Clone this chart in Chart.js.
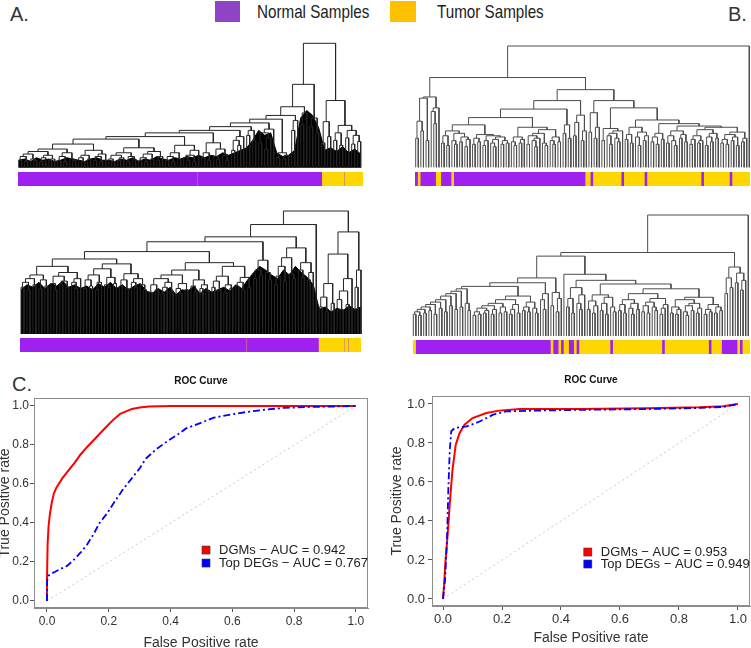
<!DOCTYPE html>
<html>
<head>
<meta charset="utf-8">
<script src="https://cdn.jsdelivr.net/npm/chart.js@4.4.1/dist/chart.umd.min.js"></script>
<style>
  html, body { margin: 0; padding: 0; background: #fff; overflow: hidden; }
  body { width: 751px; height: 648px; position: relative; font-family: "Liberation Sans", Arial, sans-serif; }
  .panel { position: absolute; font-size: 20px; color: #333; line-height: 22px; }
  .key { position: absolute; font-family: "Liberation Sans", Arial, sans-serif; font-size: 19px; line-height: 24px;
         color: #222; white-space: nowrap; transform: scaleX(0.8); transform-origin: 0 50%; }
  .sw { position: absolute; }
</style>
</head>
<body>
<div class="panel" style="left:10px;top:3px">A.</div>
<div class="panel" style="left:728px;top:3px">B.</div>
<div class="panel" style="left:12px;top:373px">C.</div>
<div class="sw" style="left:215px;top:1px;width:25px;height:21px;background:#8e44c4"></div>
<div class="key" style="left:257px;top:0px" id="k0"></div>
<div class="sw" style="left:390px;top:1px;width:26px;height:21px;background:#ffc000"></div>
<div class="key" style="left:437px;top:0px" id="k1"></div>

<script>
/* ================================
   DATA
================================ */

const legendLabels = ["Normal Samples", "Tumor Samples"];

// dendrograms: merge height between neighbouring leaves (0 = leaf level, 100 = root)
const gapsA1 = [
  6,9,5,11,7,6,13,5,8,10,6,7,15,6,9,5,12,7,6,19,8,5,10,7,14,6,9,5,11,
  23,
  7,5,10,6,8,12,5,9,7,16,6,8,5,11,7,13,6,9,
  25,
  6,9,5,12,7,18,8,6,10,5,14,
  28,
  8,12,6,20,9,7,15,10,6,
  30,
  14,22,18,25,
  33,
  26,30,22,
  36,
  20,28,15,24,31,
  39,
  8,12,7,10,
  42,
  30,38,49,35,44,
  67,
  33,40,28,
  100,
  20,37,25,54,22,28,18,34,24,30,19,26,21
];
// height of the dense black leaf mass, every second leaf
const massA1 = [
  6,7,5,8,6,7,5,6,8,7,6,5,7,8,6,
  6,5,7,6,8,5,7,6,9,7,
  6,8,7,9,8,10,
  8,10,9,12,10,
  12,14,16,22,
  30,26,28,12,
  9,10,14,
  40,46,42,32,
  14,16,13,17,12,15,11
];

const gapsA2 = [
  38,42,36,45,40,48,37,44,39,55,41,36,47,40,43,38,50,42,37,45,
  61,
  37,44,39,48,36,42,53,40,38,46,41,57,39,44,37,49,42,38,45,40,36,
  67,
  34,40,36,45,33,38,42,35,48,37,33,41,36,52,39,34,44,37,40,35,58,38,43,36,47,34,40,37,55,39,42,36,46,38,
  75,
  45,52,48,60,50,44,
  79,
  40,47,55,43,62,49,45,70,52,46,58,44,50,
  89,
  100,
  22,30,18,41,25,65,28,20,35,24,45,83,38,52
];
const massA2 = [
  36,40,38,42,37,41,39,43,38,40,37,
  39,36,41,38,42,37,40,36,39,41,35,
  33,37,34,38,32,36,35,39,33,37,34,36,38,35,40,37,44,
  50,55,52,48,
  45,52,48,55,50,46,40,
  20,22,18,21,19,23,20,22
];

const gapsB1 = [
  24,38,30,57,22,58,46,36,49,
  74,
  20,26,18,30,22,19,28,21,25,17,23,
  35,
  19,24,21,27,18,22,26,20,17,23,25,19,22,20,
  41,
  21,18,25,20,23,33,19,26,22,17,24,28,20,18,31,22,19,25,21,
  48,
  28,35,24,
  55,
  26,37,43,22,30,
  64,
  29,45,24,33,
  55,
  22,32,26,19,28,24,21,30,
  49,
  23,27,20,33,25,18,29,22,26,
  39,
  21,25,19,28,23,36,20,26,22,18,30,24,27,21,34,19,23,26,20,22,31,18,25,21,28,24,33,20,23,19,27,22,25,18,29,21,24,
  100
];

const gapsB2 = [
  18,20,17,22,19,24,21,26,18,28,23,30,20,33,25,35,22,37,24,39,27,21,
  41,
  17,20,18,23,19,21,25,18,22,27,19,24,20,30,18,22,26,19,33,21,24,20,28,23,19,
  44,
  30,22,35,
  48,
  25,36,20,31,
  66,
  51,
  24,31,19,40,27,22,34,
  46,
  22,29,19,25,34,21,27,18,32,24,20,
  43,
  21,26,19,30,23,18,27,22,35,20,25,19,28,24,21,31,18,23,26,
  39,
  19,24,18,22,30,20,17,25,21,27,19,23,32,18,22,20,26,19,24,21,
  69,
  35,48,40,57,44,52,38,46,
  100
];

// sample class bars: [class, number of samples] in leaf order
const runsA1 = [["N",537],["T",1],["N",375],["T",66],["N",1],["T",57]];
const runsA2 = [["N",681],["T",1],["N",216],["T",78],["N",1],["T",9],["N",1],["T",39]];
const runsB1 = [["N",1],["T",1],["N",6],["T",2],["N",4],["T",1],["N",51],["T",2],["N",1],["T",11],
                ["N",1],["T",8],["N",1],["T",21],["N",1],["T",10],["N",1],["T",7]];
const runsB2 = [["T",1],["N",52],["T",1],["N",2],["T",1],["N",1],["T",2],["N",2],["T",1],["N",1],
                ["T",12],["N",1],["T",19],["N",1],["T",17],["N",1],["T",4],["N",6],["T",1],["N",1],["T",3]];

// ROC curves
const rocTicks = [0, 0.2, 0.4, 0.6, 0.8, 1.0];
const rocNames = ["DGMs", "Top DEGs"];
const aucC = [0.942, 0.767];
const aucD = [0.953, 0.949];

const fprC_dgm = [0,0,0.002,0.005,0.009,0.015,0.022,0.03,0.038,0.05,0.075,0.09,0.108,0.13,0.16,0.19,0.215,0.237,0.26,0.275,0.3,0.33,0.4,0.6,0.8,1.0];
const tprC_dgm = [0,0.1,0.29,0.38,0.44,0.5,0.55,0.58,0.6,0.63,0.68,0.71,0.75,0.79,0.84,0.89,0.93,0.96,0.975,0.985,0.992,0.998,1,1,1,1];
const fprC_deg = [0,0,0.005,0.02,0.045,0.065,0.086,0.11,0.13,0.15,0.17,0.195,0.215,0.245,0.275,0.3,0.32,0.355,0.39,0.42,0.45,0.5,0.54,0.6,0.65,0.7,0.765,0.85,0.92,1.0];
const tprC_deg = [0,0.1,0.13,0.145,0.165,0.18,0.21,0.25,0.29,0.34,0.4,0.45,0.5,0.57,0.63,0.68,0.73,0.78,0.82,0.85,0.885,0.915,0.94,0.958,0.97,0.98,0.99,0.995,0.997,1.0];

const fprD_dgm = [0,0.004,0.008,0.017,0.023,0.032,0.043,0.056,0.073,0.1,0.147,0.19,0.26,0.46,0.69,0.87,0.95,1];
const tprD_dgm = [0,0.08,0.185,0.355,0.49,0.66,0.79,0.85,0.894,0.928,0.954,0.966,0.974,0.974,0.978,0.983,0.988,1];
const fprD_deg = [0,0.007,0.014,0.018,0.023,0.028,0.04,0.08,0.124,0.17,0.215,0.305,0.46,0.69,0.87,0.95,1];
const tprD_deg = [0,0.1,0.32,0.56,0.766,0.86,0.877,0.885,0.91,0.945,0.962,0.966,0.97,0.974,0.98,0.985,1];

/* ================================
   HELPERS
================================ */

const classColor = { N: "#a020f0", T: "#ffd700" };
Chart.defaults.font.family = '"Liberation Sans", Arial, sans-serif';

document.getElementById("k0").textContent = legendLabels[0];
document.getElementById("k1").textContent = legendLabels[1];

function makeCanvas(b) {
  const c = document.createElement("canvas");
  c.width = b.w; c.height = b.h;
  c.style.cssText = `position:absolute;left:${b.l}px;top:${b.t}px;width:${b.w}px;height:${b.h}px`;
  document.body.appendChild(c);
  return c;
}

// ultrametric tree from neighbour merge heights -> line segments
function dendroPoints(gaps) {
  const pts = [];
  function build(lo, hi) {
    if (lo === hi) return { x: lo, h: 0 };
    let k = lo;
    for (let i = lo; i < hi; i++) if (gaps[i] > gaps[k]) k = i;
    const l = build(lo, k), r = build(k + 1, hi), h = gaps[k];
    pts.push({ x: l.x, y: l.h }, { x: l.x, y: h }, { x: r.x, y: h }, { x: r.x, y: r.h }, { x: null, y: null });
    return { x: (l.x + r.x) / 2, h };
  }
  build(0, gaps.length);
  return pts;
}

function xRange(firstPx, lastPx, n, b) {
  const k = (lastPx - firstPx) / (n - 1);
  const min = -(firstPx - b.l) / k;
  return { min, max: min + b.w / k };
}
function yRange(basePx, topPx, b) {
  const k = (basePx - topPx) / 100;
  const max = 100 + (topPx - b.t) / k;
  return { min: max - b.h / k, max };
}

const quiet = { legend: { display: false }, tooltip: { enabled: false } };

function drawDendro(b, leaf0, leafN, base, top, gaps, mass, color) {
  const datasets = [{
    data: dendroPoints(gaps), borderColor: color, borderWidth: 1,
    pointRadius: 0, fill: false, spanGaps: false
  }];
  if (mass) datasets.push({
    data: mass.map((v, j) => ({ x: j * 2, y: v })),
    borderColor: "#000", backgroundColor: "#000", borderWidth: 1, pointRadius: 0, fill: "origin"
  });
  new Chart(makeCanvas(b), {
    type: "line",
    data: { datasets },
    options: {
      responsive: false, animation: false, devicePixelRatio: 1,
      layout: { padding: 0 },
      plugins: quiet,
      scales: {
        x: { type: "linear", display: false, ...xRange(leaf0, leafN, gaps.length + 1, b) },
        y: { display: false, ...yRange(base, top, b) }
      }
    }
  });
}

function drawBar(b, runs) {
  const total = runs.reduce((s, r) => s + r[1], 0);
  new Chart(makeCanvas(b), {
    type: "bar",
    data: {
      labels: ["samples"],
      datasets: runs.map(r => ({
        data: [r[1]], backgroundColor: classColor[r[0]], borderWidth: 0,
        barPercentage: 1, categoryPercentage: 1, stack: "s"
      }))
    },
    options: {
      indexAxis: "y", responsive: false, animation: false, devicePixelRatio: 1,
      layout: { padding: 0 },
      plugins: quiet,
      scales: {
        x: { stacked: true, display: false, min: 0, max: total },
        y: { stacked: true, display: false }
      }
    }
  });
}

/* ================================
   ROC
================================ */

const frame = {
  id: "frame",
  afterDraw(chart) {
    const { ctx, chartArea: a } = chart;
    ctx.save();
    ctx.strokeStyle = "#8c8c8c";
    ctx.lineWidth = 1;
    ctx.strokeRect(Math.round(a.left) + 0.5, Math.round(a.top) + 0.5,
                   Math.round(a.right - a.left) - 1, Math.round(a.bottom - a.top) - 1);
    ctx.restore();
  }
};

const rocLegend = {
  id: "rocLegend",
  afterDraw(chart, args, o) {
    const { ctx, chartArea: a } = chart;
    const x = a.left + o.x * (a.right - a.left);
    let y = a.top + o.y * (a.bottom - a.top);
    ctx.save();
    ctx.font = o.font;
    ctx.textBaseline = "middle";
    chart.data.datasets.filter(d => d.label).forEach(d => {
      ctx.fillStyle = d.borderColor;
      ctx.fillRect(x - 4, y - 4, 8, 8);
      ctx.strokeStyle = "#333";
      ctx.lineWidth = 0.6;
      ctx.strokeRect(x - 4, y - 4, 8, 8);
      ctx.fillStyle = "#222";
      ctx.fillText(d.label, x + o.gap, y);
      y += o.step;
    });
    ctx.restore();
  }
};

function pts(fpr, tpr) { return fpr.map((x, i) => ({ x, y: tpr[i] })); }

function drawRoc(b, s) {
  const colors = ["#ff0000", "#0000ff"];
  const curves = [[s.fprDgm, s.tprDgm], [s.fprDeg, s.tprDeg]];
  const datasets = curves.map((c, i) => ({
    label: `${rocNames[i]} \u2212 AUC = ${s.auc[i].toFixed(3)}`,
    data: pts(c[0], c[1]),
    borderColor: colors[i], backgroundColor: colors[i],
    borderWidth: i === 0 ? 2 : 1.8, borderDash: i === 0 ? [] : [7, 3, 2, 3],
    pointRadius: 0, fill: false, order: i === 0 ? 1 : 0
  }));
  datasets.push({
    data: pts([0, 1], [0, 1]), borderColor: "#c8c8c8", borderWidth: 1,
    borderDash: [2, 3], pointRadius: 0, fill: false, order: 2
  });

  new Chart(makeCanvas(b), {
    type: "line",
    data: { datasets },
    plugins: [frame, rocLegend],
    options: {
      responsive: false, animation: false, devicePixelRatio: 1,
      layout: { padding: { left: 0, right: s.padRight, top: 0, bottom: 0 } },
      plugins: {
        legend: { display: false }, tooltip: { enabled: false },
        title: {
          display: true, text: "ROC Curve", fullSize: false, color: "#111",
          font: { family: '"Liberation Sans", Arial, sans-serif', size: 10, weight: "bold" },
          padding: s.titlePad
        },
        rocLegend: { x: s.legX, y: s.legY, step: s.legStep, gap: 13, font: s.legFont }
      },
      scales: {
        x: {
          type: "linear", min: s.xr[0], max: s.xr[1],
          afterBuildTicks: sc => { sc.ticks = rocTicks.map(v => ({ value: v })); },
          afterFit: sc => { sc.height = s.xAxisH; },
          ticks: { callback: v => v.toFixed(1), color: "#333", font: { size: s.tickSize }, padding: 2, maxRotation: 0, autoSkip: false },
          grid: { drawOnChartArea: false, tickLength: 4, color: "#555" },
          border: { display: true, color: "#8c8c8c" },
          title: { display: true, text: "False Positive rate", color: "#333", font: { size: 14 }, padding: { top: 0, bottom: s.xTitleBottom } }
        },
        y: {
          type: "linear", min: s.yr[0], max: s.yr[1],
          afterBuildTicks: sc => { sc.ticks = rocTicks.map(v => ({ value: v })); },
          afterFit: sc => { sc.width = s.yAxisW; },
          ticks: { callback: v => v.toFixed(1), color: "#333", font: { size: s.tickSize }, padding: s.yTickPad, autoSkip: false },
          grid: { drawOnChartArea: false, tickLength: 4, color: "#555" },
          border: { display: true, color: "#8c8c8c" },
          title: { display: true, text: "True Positive rate", color: "#333", font: { size: 14 }, padding: { top: s.yTitleTop, bottom: 0 } }
        }
      }
    }
  });
}

/* ================================
   DRAW
================================ */

drawDendro({ l: 17, t: 40, w: 346, h: 129 }, 18.7, 360.7, 167.7, 43.3, gapsA1, massA1, "#262626");
drawBar({ l: 18, t: 172, w: 345, h: 14 }, runsA1);

drawDendro({ l: 19, t: 208, w: 344, h: 127 }, 21, 361, 334, 211, gapsA2, massA2, "#262626");
drawBar({ l: 20, t: 338, w: 341, h: 14 }, runsA2);

drawDendro({ l: 413, t: 43, w: 338, h: 125 }, 415.7, 749.3, 167.3, 46, gapsB1, null, "#4d4d4d");
drawBar({ l: 415, t: 172, w: 335, h: 14 }, runsB1);

drawDendro({ l: 411, t: 212, w: 340, h: 125 }, 413.3, 748.3, 336, 215, gapsB2, null, "#4d4d4d");
drawBar({ l: 413, t: 340, w: 337, h: 14 }, runsB2);

drawRoc({ l: 0, t: 370, w: 372, h: 282 }, {
  fprDgm: fprC_dgm, tprDgm: tprC_dgm, fprDeg: fprC_deg, tprDeg: tprC_deg, auc: aucC,
  xr: [-0.042, 1.039], yr: [-0.036, 1.041], padRight: 4,
  yAxisW: 34, xAxisH: 44, titlePad: { top: 5, bottom: 11 },
  tickSize: 12, yTickPad: 1, xTitleBottom: 0.6, yTitleTop: -3,
  legX: 0.515, legY: 0.724, legStep: 13, legFont: '13px "Liberation Sans", Arial, sans-serif'
});

drawRoc({ l: 380, t: 370, w: 371, h: 282 }, {
  fprDgm: fprD_dgm, tprDgm: tprD_dgm, fprDeg: fprD_deg, tprDeg: tprD_deg, auc: aucD,
  xr: [-0.0373, 1.0407], yr: [-0.036, 1.041], padRight: 1,
  yAxisW: 52, xAxisH: 46, titlePad: { top: 4, bottom: 10 },
  tickSize: 13, yTickPad: 3, xTitleBottom: 5.6, yTitleTop: 8.6,
  legX: 0.49, legY: 0.743, legStep: 12, legFont: '13px "Liberation Sans", Arial, sans-serif'
});
</script>
</body>
</html>
